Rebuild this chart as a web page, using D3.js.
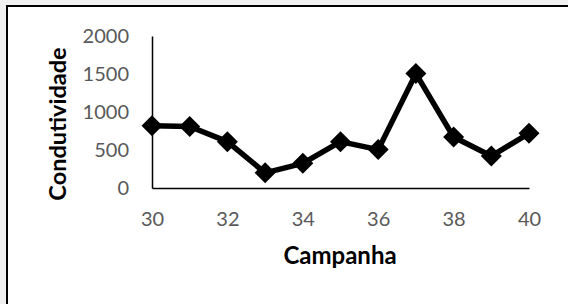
<!DOCTYPE html>
<html>
<head>
<meta charset="utf-8">
<script src="https://cdn.jsdelivr.net/npm/d3@7"></script>
<style>
  html, body { margin: 0; padding: 0; background: #f0f0f0; }
  svg { display: block; }
</style>
</head>
<body>
<svg id="chart" width="568" height="304"></svg>
<script>
const campanha = [30, 31, 32, 33, 34, 35, 36, 37, 38, 39, 40];
const condutividade = [820, 810, 610, 200, 325, 610, 505, 1505, 670, 420, 720];
const xTicks = [30, 32, 34, 36, 38, 40];
const yTicks = [0, 500, 1000, 1500, 2000];
const xTitle = "Campanha";
const yTitle = "Condutividade";

const svg = d3.select("#chart");
const font = "Lato, 'Open Sans', sans-serif";

// chart frame
svg.append("rect")
  .attr("x", 7).attr("y", 6)
  .attr("width", 640).attr("height", 340)
  .attr("fill", "#ffffff")
  .attr("stroke", "#000").attr("stroke-width", 2);

const x = d3.scaleLinear().domain([30, 40]).range([152, 529]);
const y = d3.scaleLinear().domain([0, 2000]).range([188, 36]);

const xAxis = svg.append("g")
  .attr("transform", `translate(0,${y(0)})`)
  .call(d3.axisBottom(x).tickValues(xTicks).tickSize(0).tickPadding(24).tickFormat(d3.format("d")));
const yAxis = svg.append("g")
  .attr("transform", `translate(${x(30)},0)`)
  .call(d3.axisLeft(y).tickValues(yTicks).tickSize(0).tickPadding(23).tickFormat(d3.format("d")));

[xAxis, yAxis].forEach(g => {
  g.select(".domain").attr("stroke", "#000").attr("stroke-width", 1.5);
  g.selectAll("text").attr("fill", "#595959").style("font-family", font).style("font-size", "20px");
});

const pts = campanha.map((c, i) => [c, condutividade[i]]);

svg.append("path")
  .datum(pts)
  .attr("fill", "none")
  .attr("stroke", "#000")
  .attr("stroke-width", 5.5)
  .attr("stroke-linejoin", "round")
  .attr("d", d3.line().x(d => x(d[0])).y(d => y(d[1])));

const r = 10.5;
svg.append("g").selectAll("path")
  .data(pts)
  .join("path")
  .attr("transform", d => `translate(${x(d[0])},${y(d[1])})`)
  .attr("d", `M0,${-r}L${r},0L0,${r}L${-r},0Z`)
  .attr("fill", "#000");

svg.append("text")
  .attr("x", 340).attr("y", 264)
  .attr("text-anchor", "middle")
  .style("font-family", font).style("font-size", "24px").style("font-weight", "bold")
  .attr("fill", "#000")
  .text(xTitle);

svg.append("text")
  .attr("transform", "translate(66,124) rotate(-90)")
  .attr("text-anchor", "middle")
  .style("font-family", font).style("font-size", "23.5px").style("font-weight", "bold")
  .attr("fill", "#000")
  .text(yTitle);
</script>
</body>
</html>
